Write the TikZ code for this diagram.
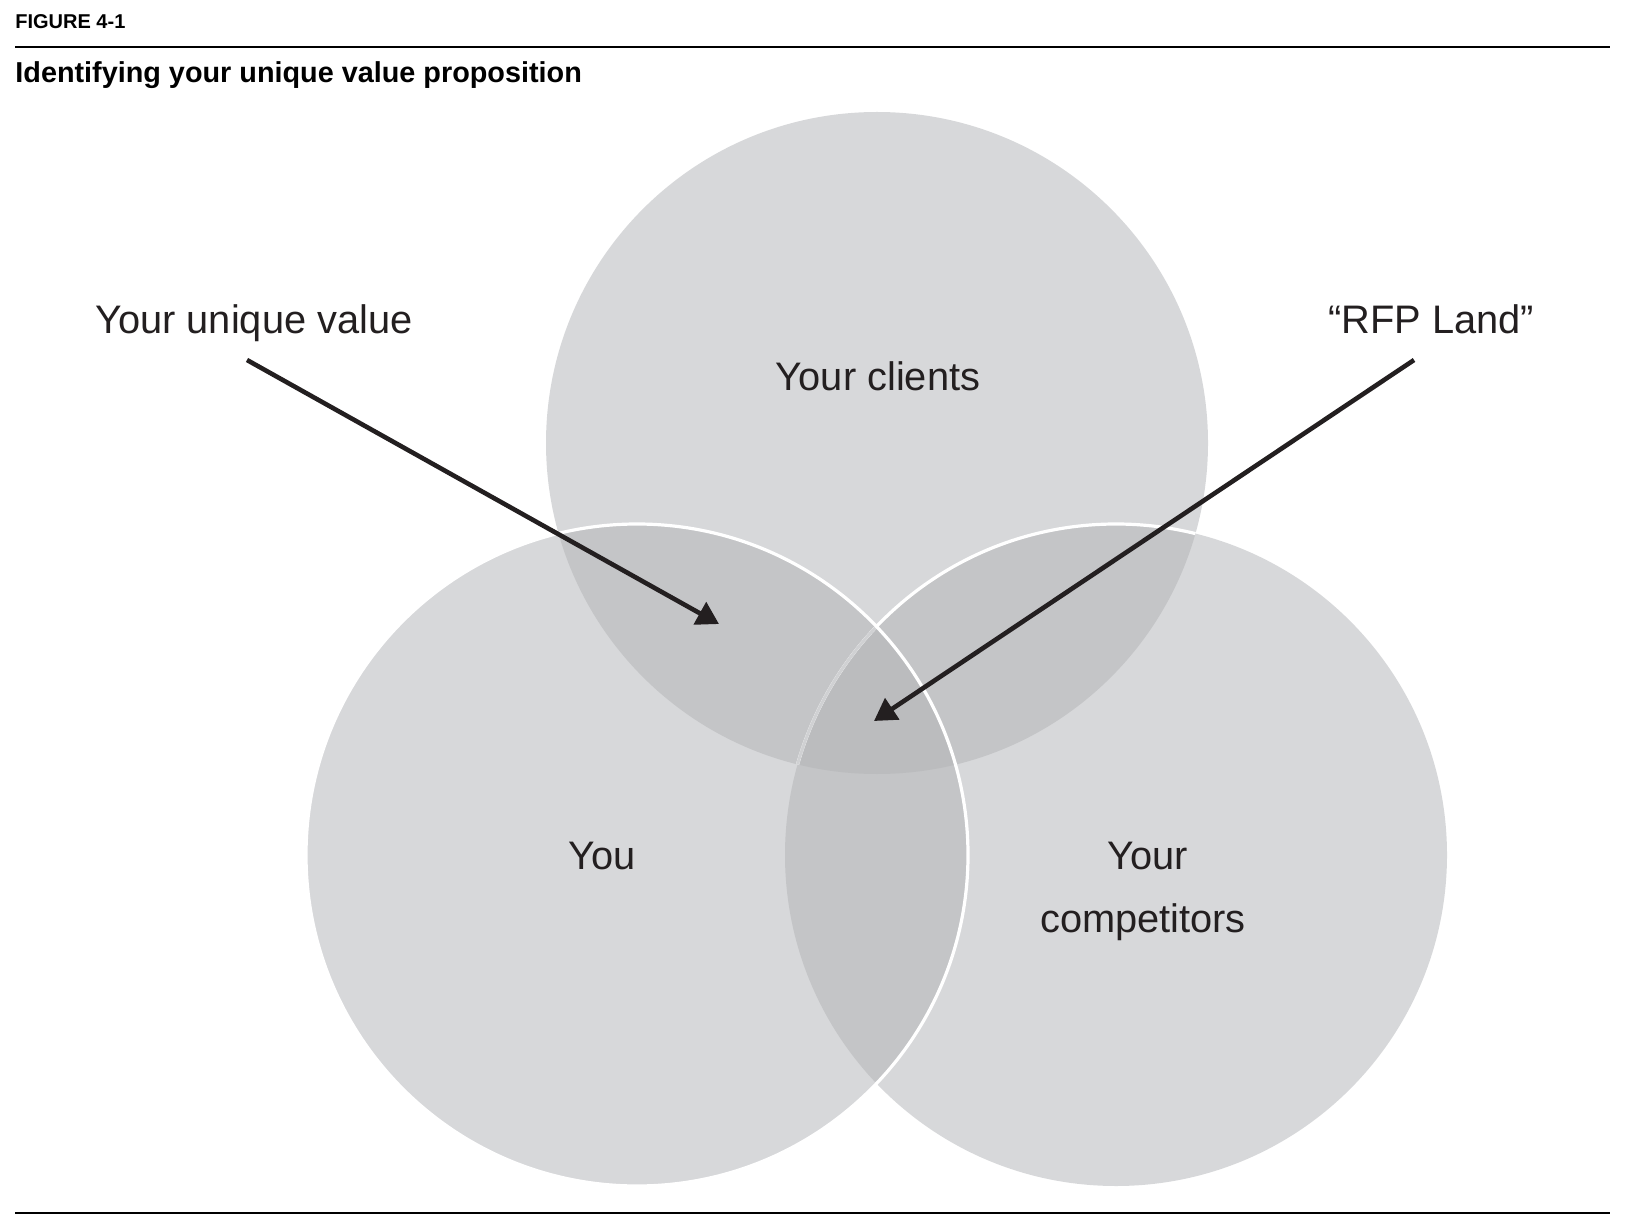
\documentclass[tikz,border=0pt]{standalone}
\usepackage{fontspec}
\setmainfont{Liberation Sans}
\usetikzlibrary{arrows.meta}
\definecolor{cbase}{HTML}{D7D8DA}
\definecolor{cpair}{HTML}{C4C5C7}
\definecolor{ctrip}{HTML}{BBBCBE}
\definecolor{cfaint}{HTML}{D0D1D3}
\definecolor{ink}{HTML}{231F20}
\begin{document}
\begin{tikzpicture}[x=0.5pt,y=-0.5pt,
  lbl/.style={inner sep=0pt, text=ink, font=\fontsize{19.9pt}{23pt}\selectfont, anchor=base},
  pointer/.style={draw=ink, line width=2.3pt, -{Triangle[length=11pt,width=12.5pt]}},
  rim/.style={draw=white, line width=1.6pt},
  rule/.style={draw=black, line width=1.1pt}]
\useasboundingbox (0,0) rectangle (1626,1229);
\def\rr{165.5pt}
\coordinate (cT) at (877,443);
\coordinate (cL) at (637,855);
\coordinate (cR) at (1116,855);
% base fills
\fill[cbase] (cT) circle[radius=\rr];
\fill[cbase] (cL) circle[radius=\rr];
\fill[cbase] (cR) circle[radius=\rr];
% pairwise overlaps
\begin{scope}\clip (cT) circle[radius=\rr]; \fill[cpair] (cL) circle[radius=\rr]; \fill[cpair] (cR) circle[radius=\rr];\end{scope}
\begin{scope}\clip (cL) circle[radius=\rr]; \fill[cpair] (cR) circle[radius=\rr];\end{scope}
% triple overlap
\begin{scope}\clip (cT) circle[radius=\rr]; \clip (cL) circle[radius=\rr]; \fill[ctrip] (cR) circle[radius=\rr];\end{scope}
% rim of right circle, visible within top circle
\begin{scope}\clip (cT) circle[radius=\rr]; \draw[rim] (cR) circle[radius=\rr];\end{scope}
\begin{scope}\clip (cT) circle[radius=\rr]; \clip (cL) circle[radius=\rr]; \draw[draw=cfaint, line width=1.5pt] (cR) circle[radius=\rr];\end{scope}
% rim of left circle
\draw[rim] (cL) circle[radius=\rr];
% header
\node[inner sep=0pt, anchor=base west, font=\bfseries\fontsize{10pt}{12pt}\selectfont] (fig) at (15,29) {FIGURE 4-1};
\coordinate (r1a) at (15,47); \coordinate (r1b) at (1610,47);
\draw[rule] (r1a) -- (r1b);
\node[inner sep=0pt, anchor=base west, font=\bfseries\fontsize{14.4pt}{17pt}\selectfont] (title) at (15,83) {Identifying your unique value proposition};
\coordinate (r2a) at (15,1213); \coordinate (r2b) at (1610,1213);
\draw[rule] (r2a) -- (r2b);
% labels
\node[lbl] (clients) at (878,391) {Your clients};
\node[lbl] (you) at (602,869) {You};
\node[lbl] (comp1) at (1148,869) {Your};
\node[lbl] (comp2) at (1143,932) {competitors};
\node[lbl] (uv) at (254,334) {Your unique value};
\node[lbl] (rfp) at (1431,334) {“RFP Land”};
% arrows
\coordinate (a1s) at (247,360); \coordinate (a1t) at (719,624);
\coordinate (a2s) at (1414,360); \coordinate (a2t) at (874,721);
\draw[pointer] (a1s) -- (a1t);
\draw[pointer] (a2s) -- (a2t);
\end{tikzpicture}
\end{document}
